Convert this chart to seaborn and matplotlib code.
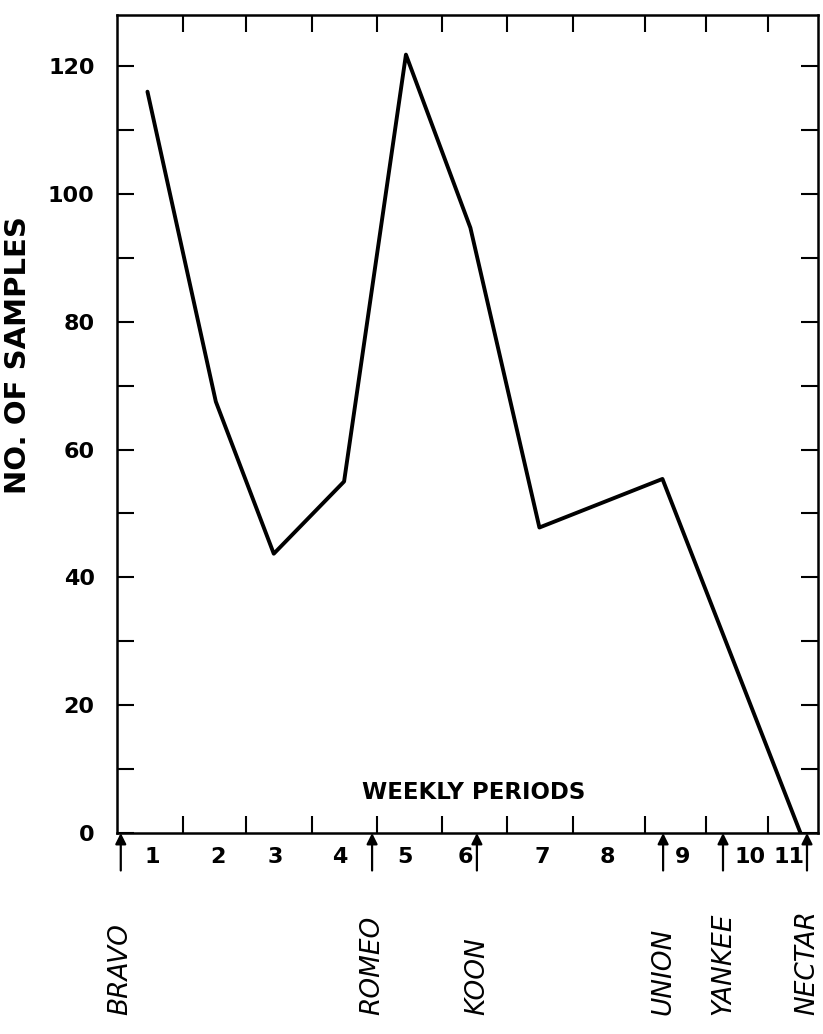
import matplotlib
matplotlib.use("Agg")
import matplotlib.pyplot as plt
import seaborn as sns
import pandas as pd

# sample counts (x in week units from the start of period 1)
week_pos = [0.47, 1.52, 2.41, 3.49, 4.44, 5.43, 6.49, 8.38, 10.5]
samples = [116, 67.5, 43.7, 55.0, 121.8, 94.7, 47.8, 55.4, 0]

# boundaries between weekly periods (hand drawn, so a bit uneven)
period_ticks = [1.01, 1.99, 3.0, 4.0, 4.99, 5.99, 7.0, 8.11, 9.05, 10.0]
period_label_pos = [0.54, 1.55, 2.43, 3.43, 4.42, 5.35, 6.53, 7.54, 8.69, 9.72, 10.32]
period_labels = ["1", "2", "3", "4", "5", "6", "7", "8", "9", "10", "11"]

# varieties and where their arrows sit on the week axis
varieties = ["BRAVO", "ROMEO", "KOON", "UNION", "YANKEE", "NECTAR"]
variety_pos = [0.06, 3.92, 5.53, 8.39, 9.31, 10.6]

y_major = [0, 20, 40, 60, 80, 100, 120]
y_minor = [10, 30, 50, 70, 90, 110]

data = pd.DataFrame({"week": week_pos, "samples": samples})

sns.set_style("ticks")
plt.rcParams["font.family"] = ["DejaVu Sans"]
plt.rcParams["text.color"] = "black"
plt.rcParams["axes.labelcolor"] = "black"
plt.rcParams["xtick.color"] = "black"
plt.rcParams["ytick.color"] = "black"

fig = plt.figure(figsize=(8.23, 10.34), dpi=100)
ax = fig.add_axes([0.142, 0.1944, 0.852, 0.7911])

sns.lineplot(x="week", y="samples", data=data, color="black", linewidth=2.8, ax=ax)

ax.set_xlim(0, 10.77)
ax.set_ylim(0, 128)

for side in ["left", "right", "top", "bottom"]:
    ax.spines[side].set_visible(True)
    ax.spines[side].set_linewidth(1.8)
    ax.spines[side].set_color("black")

ax.set_xticks(period_ticks)
ax.set_xticklabels([])
ax.set_xticks(period_label_pos, minor=True)
ax.set_xticklabels(period_labels, minor=True, fontsize=16, fontweight="bold")
ax.tick_params(axis="x", which="major", direction="in", length=12, width=1.5,
               top=True, bottom=True, labelbottom=False)
ax.tick_params(axis="x", which="minor", length=0, pad=10, top=False)

ax.set_yticks(y_major)
ax.set_yticklabels([str(v) for v in y_major], fontsize=16, fontweight="bold")
ax.set_yticks(y_minor, minor=True)
ax.tick_params(axis="y", which="both", direction="in", length=12, width=1.5,
               left=True, right=True, labelright=False, pad=16)

ax.set_xlabel("")
ax.set_ylabel("NO. OF SAMPLES", fontsize=21, fontweight="bold")
ax.yaxis.set_label_coords(-0.121, 0.584)

ax.text(5.48, 6.3, "WEEKLY PERIODS", ha="center", va="center",
        fontsize=16.5, fontweight="bold")

# arrows marking when each variety came in, with the names below
for name, pos in zip(varieties, variety_pos):
    ax.annotate("", xy=(pos, 0), xytext=(0, -27), textcoords="offset points",
                annotation_clip=False,
                arrowprops=dict(arrowstyle="-|>", color="black", lw=1.6,
                                mutation_scale=16, shrinkA=0, shrinkB=0))
    ax.text(pos, -0.222, name, transform=ax.get_xaxis_transform(),
            rotation=90, ha="center", va="bottom", fontsize=19,
            fontstyle="italic")

fig.savefig("out.png", dpi=100, facecolor="white")
